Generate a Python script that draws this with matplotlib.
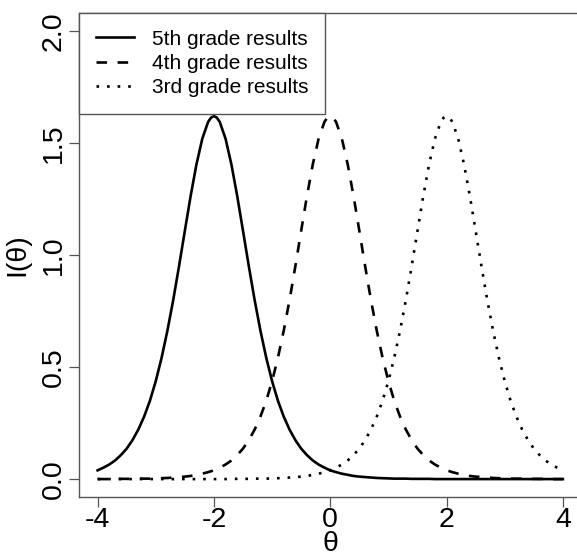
import matplotlib
matplotlib.use('Agg')
import matplotlib.pyplot as plt

plt.rcParams['font.family'] = ['Liberation Sans', 'DejaVu Sans']

# theta grid: -4 .. 4 in steps of 0.1, plus a few extra points around the peaks
theta_base = [round(-4 + 0.1 * i, 2) for i in range(81)]
theta_extra = [-2.05, -1.95, -0.05, 0.05, 1.95, 2.05]
theta = sorted(theta_base + theta_extra)

# item information, one value per theta point
# grade 5 peaks at -2
info_5th = [0.039, 0.051, 0.065, 0.083, 0.107, 0.136, 0.174, 0.221, 0.279, 0.350,
            0.437, 0.541, 0.662, 0.799, 0.950, 1.108, 1.264, 1.405, 1.519, 1.594,
            1.613, 1.620, 1.613,
            1.594, 1.519, 1.405, 1.264, 1.108, 0.950, 0.799, 0.662, 0.541, 0.437,
            0.350, 0.279, 0.221, 0.174, 0.136, 0.107, 0.083, 0.065, 0.051,
            0.045, 0.039, 0.035,
            0.031, 0.024, 0.019, 0.014, 0.011, 0.009, 0.007, 0.005, 0.004, 0.003,
            0.002, 0.002, 0.002, 0.001, 0.001, 0.001, 0.001, 0.000, 0.000,
            0.000, 0.000, 0.000,
            0.000, 0.000, 0.000, 0.000, 0.000, 0.000, 0.000, 0.000, 0.000, 0.000,
            0.000, 0.000, 0.000, 0.000, 0.000, 0.000, 0.000, 0.000, 0.000, 0.000]

# grade 4 peaks at 0
info_4th = [0.000, 0.000, 0.000, 0.001, 0.001, 0.001, 0.001, 0.002, 0.002, 0.002,
            0.003, 0.004, 0.005, 0.007, 0.009, 0.011, 0.014, 0.019, 0.024, 0.031,
            0.035, 0.039, 0.045,
            0.051, 0.065, 0.083, 0.107, 0.136, 0.174, 0.221, 0.279, 0.350, 0.437,
            0.541, 0.662, 0.799, 0.950, 1.108, 1.264, 1.405, 1.519, 1.594,
            1.613, 1.620, 1.613,
            1.594, 1.519, 1.405, 1.264, 1.108, 0.950, 0.799, 0.662, 0.541, 0.437,
            0.350, 0.279, 0.221, 0.174, 0.136, 0.107, 0.083, 0.065, 0.051,
            0.045, 0.039, 0.035,
            0.031, 0.024, 0.019, 0.014, 0.011, 0.009, 0.007, 0.005, 0.004, 0.003,
            0.002, 0.002, 0.002, 0.001, 0.001, 0.001, 0.001, 0.000, 0.000, 0.000]

# grade 3 peaks at +2 (mirror image of grade 5)
info_3rd = info_5th[::-1]

labels = ['5th grade results', '4th grade results', '3rd grade results']
xticks = [-4, -2, 0, 2, 4]
yticks = [0.0, 0.5, 1.0, 1.5, 2.0]


def main():
    fig = plt.figure(figsize=(5.77, 5.56), dpi=100)
    ax = fig.add_axes([0.1369, 0.1061, 0.8709, 0.8705])

    kw = dict(color='black', lw=1.9, solid_joinstyle='round', dash_joinstyle='round')
    ax.plot(theta, info_5th, linestyle='-', label=labels[0], **kw)
    ax.plot(theta, info_4th, linestyle=(0, (4, 4)), label=labels[1], **kw)
    ax.plot(theta, info_3rd, linestyle=(0, (1, 3)), label=labels[2], **kw)

    ax.set_xlim(-4.32, 4.32)
    ax.set_ylim(-0.08, 2.08)
    ax.set_xticks(xticks)
    ax.set_xticklabels([str(t) for t in xticks])
    ax.set_yticks(yticks)
    ax.set_yticklabels([f'{t:.1f}' for t in yticks], rotation=90, va='center')

    for s in ax.spines.values():
        s.set_color('#555555')
        s.set_linewidth(1.0)
    ax.tick_params(axis='both', direction='out', length=7, width=0.9,
                   color='#555555', labelsize=20.5)
    ax.tick_params(axis='x', pad=0)
    ax.tick_params(axis='y', pad=2)

    ax.set_xlabel('θ', fontsize=20.5, va='center')
    ax.xaxis.set_label_coords(0.5, -0.097)
    ax.set_ylabel('I(θ)', fontsize=20.5, va='center')
    ax.yaxis.set_label_coords(-0.123, 0.5)

    leg = ax.legend(loc='upper left', bbox_to_anchor=(0, 1), borderaxespad=0,
                    fancybox=False, framealpha=1, edgecolor='#555555',
                    fontsize=15, handlelength=1.85, handletextpad=0.85,
                    labelspacing=0.25, borderpad=0.8)
    leg.get_frame().set_linewidth(1.0)

    fig.savefig('out.png', dpi=100)


if __name__ == '__main__':
    main()
